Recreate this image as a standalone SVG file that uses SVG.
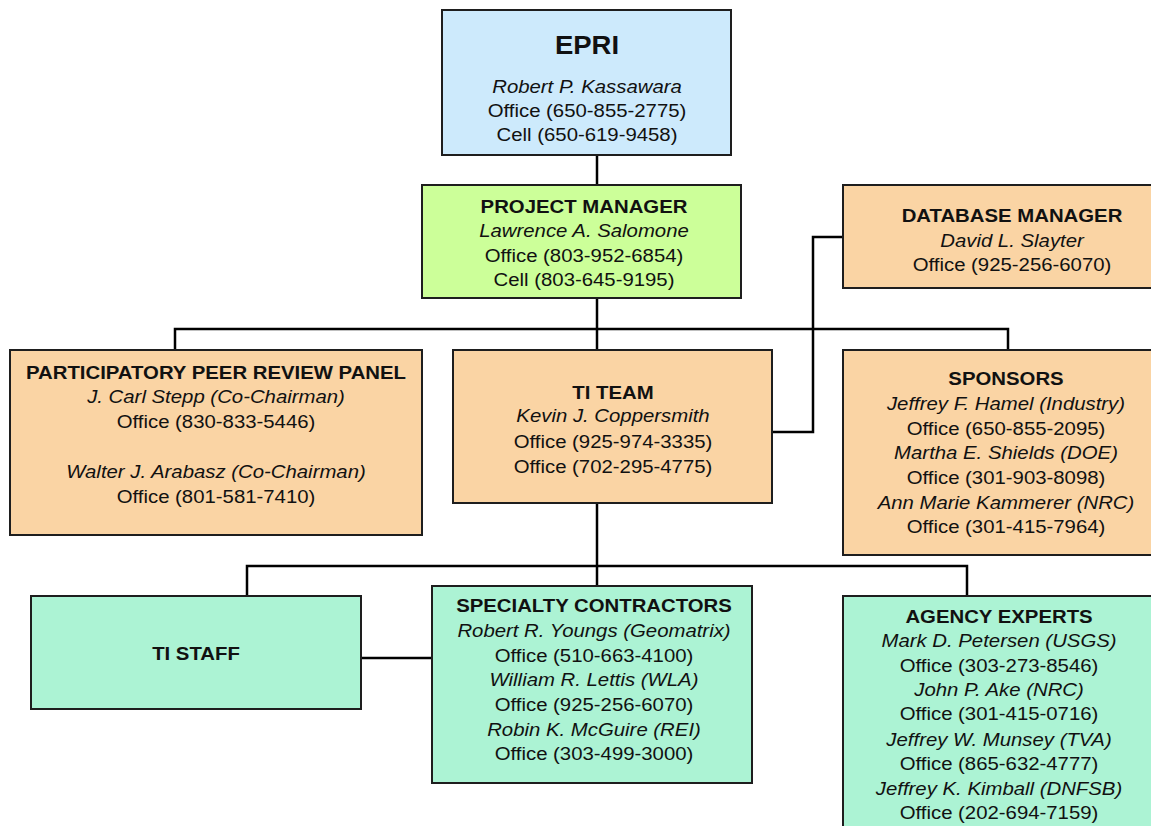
<svg xmlns="http://www.w3.org/2000/svg" width="1151" height="826" viewBox="0 0 1151 826">
<style>
.box{stroke:#1e1e1e;stroke-width:2}
.blue{fill:#cdeafc}
.lime{fill:#ccff99}
.peach{fill:#fad4a4}
.mint{fill:#acf3d4}
text{font-family:"Liberation Sans",Arial,sans-serif;font-size:18.5px;fill:#111;text-anchor:middle}
.t{font-weight:bold}
.big{font-size:25px}
.i{font-style:italic}
.conn{stroke:#000;stroke-width:2.5;fill:none}
</style>
<rect width="1151" height="826" fill="#fff"/>
<g id="connectors">
<line class="conn" x1="597" y1="155" x2="597" y2="185"/>
<line class="conn" x1="597" y1="298" x2="597" y2="350"/>
<polyline class="conn" points="175,350 175,329 1008,329 1008,350"/>
<polyline class="conn" points="843,237 813,237 813,432 772,432"/>
<line class="conn" x1="597" y1="503" x2="597" y2="586"/>
<polyline class="conn" points="247,596 247,566 967,566 967,596"/>
<line class="conn" x1="361" y1="658" x2="432" y2="658"/>
</g>
<g id="epri">
<rect class="box blue" x="442" y="10" width="289" height="145"/>
<g transform="translate(587,0) scale(1.1,1)">
<text class="t big" x="0" y="54">EPRI</text>
<text class="i" x="0" y="93">Robert P. Kassawara</text>
<text x="0" y="117">Office (650-855-2775)</text>
<text x="0" y="141">Cell (650-619-9458)</text>
</g>
</g>
<g id="project-manager">
<rect class="box lime" x="422" y="185" width="319" height="113"/>
<g transform="translate(584,0) scale(1.1,1)">
<text class="t" x="0" y="213">PROJECT MANAGER</text>
<text class="i" x="0" y="237">Lawrence A. Salomone</text>
<text x="0" y="262">Office (803-952-6854)</text>
<text x="0" y="286">Cell (803-645-9195)</text>
</g>
</g>
<g id="database-manager">
<rect class="box peach" x="843" y="185" width="338" height="103"/>
<g transform="translate(1012,0) scale(1.1,1)">
<text class="t" x="0" y="222">DATABASE  MANAGER</text>
<text class="i" x="0" y="247">David L. Slayter</text>
<text x="0" y="271">Office (925-256-6070)</text>
</g>
</g>
<g id="peer-review-panel">
<rect class="box peach" x="10" y="350" width="412" height="185"/>
<g transform="translate(216,0) scale(1.1,1)">
<text class="t" x="0" y="379">PARTICIPATORY  PEER REVIEW PANEL</text>
<text class="i" x="0" y="403">J. Carl Stepp (Co-Chairman)</text>
<text x="0" y="428">Office (830-833-5446)</text>
<text class="i" x="0" y="478">Walter J. Arabasz (Co-Chairman)</text>
<text x="0" y="503">Office (801-581-7410)</text>
</g>
</g>
<g id="ti-team">
<rect class="box peach" x="453" y="350" width="319" height="153"/>
<g transform="translate(613,0) scale(1.1,1)">
<text class="t" x="0" y="399">TI TEAM</text>
<text class="i" x="0" y="422">Kevin J. Coppersmith</text>
<text x="0" y="448">Office (925-974-3335)</text>
<text x="0" y="473">Office (702-295-4775)</text>
</g>
</g>
<g id="sponsors">
<rect class="box peach" x="843" y="350" width="326" height="205"/>
<g transform="translate(1006,0) scale(1.1,1)">
<text class="t" x="0" y="385">SPONSORS</text>
<text class="i" x="0" y="410">Jeffrey F. Hamel (Industry)</text>
<text x="0" y="435">Office (650-855-2095)</text>
<text class="i" x="0" y="459">Martha E. Shields (DOE)</text>
<text x="0" y="484">Office (301-903-8098)</text>
<text class="i" x="0" y="509">Ann Marie Kammerer (NRC)</text>
<text x="0" y="533">Office (301-415-7964)</text>
</g>
</g>
<g id="ti-staff">
<rect class="box mint" x="31" y="596" width="330" height="113"/>
<g transform="translate(196,0) scale(1.1,1)">
<text class="t" x="0" y="660">TI STAFF</text>
</g>
</g>
<g id="specialty-contractors">
<rect class="box mint" x="432" y="586" width="320" height="197"/>
<g transform="translate(594,0) scale(1.1,1)">
<text class="t" x="0" y="612">SPECIALTY CONTRACTORS</text>
<text class="i" x="0" y="637">Robert R. Youngs (Geomatrix)</text>
<text x="0" y="662">Office (510-663-4100)</text>
<text class="i" x="0" y="686">William R. Lettis (WLA)</text>
<text x="0" y="711">Office (925-256-6070)</text>
<text class="i" x="0" y="736">Robin K. McGuire (REI)</text>
<text x="0" y="760">Office (303-499-3000)</text>
</g>
</g>
<g id="agency-experts">
<rect class="box mint" x="843" y="596" width="312" height="250"/>
<g transform="translate(999,0) scale(1.1,1)">
<text class="t" x="0" y="623">AGENCY EXPERTS</text>
<text class="i" x="0" y="647">Mark D. Petersen (USGS)</text>
<text x="0" y="672">Office (303-273-8546)</text>
<text class="i" x="0" y="696">John P. Ake (NRC)</text>
<text x="0" y="720">Office (301-415-0716)</text>
<text class="i" x="0" y="746">Jeffrey W. Munsey (TVA)</text>
<text x="0" y="770">Office (865-632-4777)</text>
<text class="i" x="0" y="795">Jeffrey K. Kimball (DNFSB)</text>
<text x="0" y="819">Office (202-694-7159)</text>
</g>
</g>
</svg>
